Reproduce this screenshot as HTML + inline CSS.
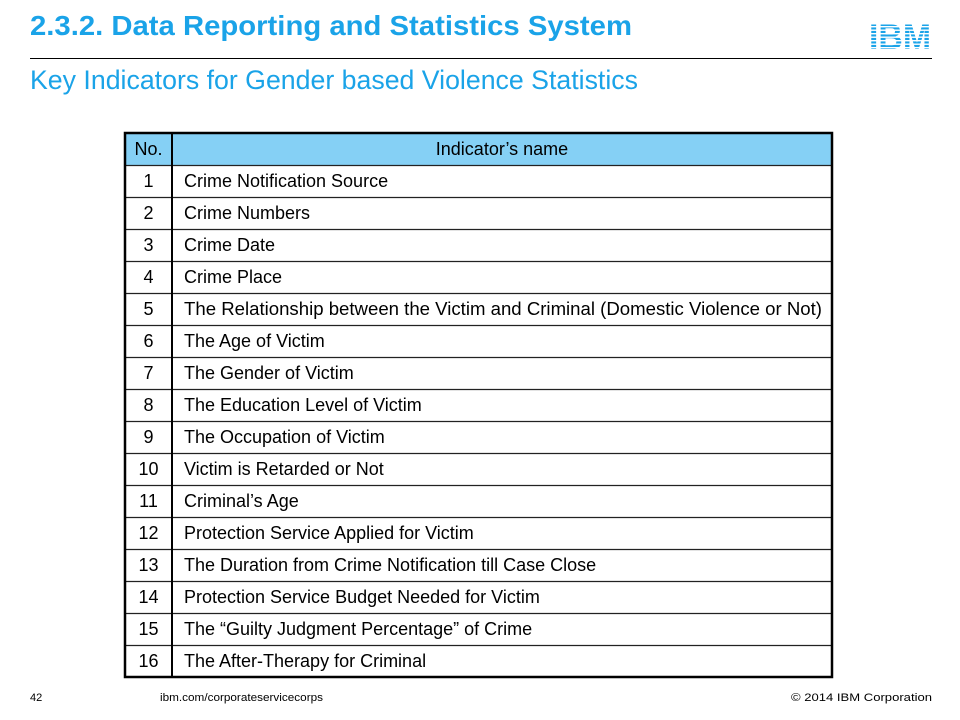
<!DOCTYPE html>
<html><head><meta charset="utf-8"><style>
html,body{margin:0;padding:0;background:#fff;}
svg{display:block;font-family:"Liberation Sans",Arial,sans-serif;}
</style></head><body>
<svg id="s" width="960" height="720" viewBox="0 0 960 720">
<text x="30" y="35" font-size="28" font-weight="bold" fill="#1aa3e8" textLength="602" lengthAdjust="spacingAndGlyphs">2.3.2. Data Reporting and Statistics System</text>
<g>
<text x="900" y="49" font-size="35" font-weight="bold" fill="#1aa3e8" text-anchor="middle" textLength="62" lengthAdjust="spacingAndGlyphs">IBM</text>
<rect x="866" y="26" width="68" height="1.4" fill="#fff"/><rect x="866" y="29.5" width="68" height="1.4" fill="#fff"/><rect x="866" y="33" width="68" height="1.4" fill="#fff"/><rect x="866" y="36.5" width="68" height="1.4" fill="#fff"/><rect x="866" y="40" width="68" height="1.4" fill="#fff"/><rect x="866" y="43.5" width="68" height="1.4" fill="#fff"/><rect x="866" y="47" width="68" height="1.4" fill="#fff"/>
</g>
<line x1="30" y1="58.5" x2="932" y2="58.5" stroke="#000" stroke-width="1"/>
<text x="30" y="89" font-size="27" fill="#1aa3e8" textLength="608" lengthAdjust="spacingAndGlyphs">Key Indicators for Gender based Violence Statistics</text>
<g id="tbl"></g>
<text x="30" y="701" font-size="11" fill="#000">42</text>
<text x="160" y="701" font-size="11" fill="#000" textLength="163" lengthAdjust="spacingAndGlyphs">ibm.com/corporateservicecorps</text>
<text x="932" y="701" font-size="11" fill="#000" text-anchor="end" textLength="141" lengthAdjust="spacingAndGlyphs">© 2014 IBM Corporation</text>
</svg>
<script>
const names=["Crime Notification Source","Crime Numbers","Crime Date","Crime Place","The Relationship between the Victim and Criminal (Domestic Violence or Not)","The Age of Victim","The Gender of Victim","The Education Level of Victim","The Occupation of Victim","Victim is Retarded or Not","Criminal’s Age","Protection Service Applied for Victim","The Duration from Crime Notification till Case Close","Protection Service Budget Needed for Victim","The “Guilty Judgment Percentage” of Crime","The After-Therapy for Criminal"];
const NS="http://www.w3.org/2000/svg";
const g=document.getElementById('tbl');
function mk(t,a){const e=document.createElementNS(NS,t);for(const k in a)e.setAttribute(k,a[k]);g.appendChild(e);return e;}
const L=125,R=832,C=172,T=133,H=32,FS=18;
let hdr=mk('rect',{x:L,y:T,width:R-L,height:H,fill:'#85d0f5'});


let h1=mk('text',{x:(L+C)/2,y:T+22,'font-size':FS,'text-anchor':'middle'});h1.textContent='No.';


let h2=mk('text',{x:(C+R)/2,y:T+22,'font-size':FS,'text-anchor':'middle'});h2.textContent='Indicator’s name';


names.forEach((n,i)=>{
  const y=T+H*(i+1);
  mk('line',{x1:L,x2:R,y1:y+0.5,y2:y+0.5,stroke:'#222','stroke-width':1.2});
  const a=mk('text',{x:(L+C)/2,y:y+22,'font-size':FS,'text-anchor':'middle'});a.textContent=String(i+1);
  
  
  const attrs={x:184,y:y+22,'font-size':FS};
  if(i===4){attrs.textLength=638;attrs.lengthAdjust='spacingAndGlyphs';}
  const b=mk('text',attrs);b.textContent=n;
  
  
});
mk('line',{x1:C,x2:C,y1:T,y2:T+H*17,stroke:'#000','stroke-width':2});
const bd=mk('rect',{x:L,y:T,width:R-L,height:H*17,fill:'none',stroke:'#000','stroke-width':2.5});


</script>
</body></html>
